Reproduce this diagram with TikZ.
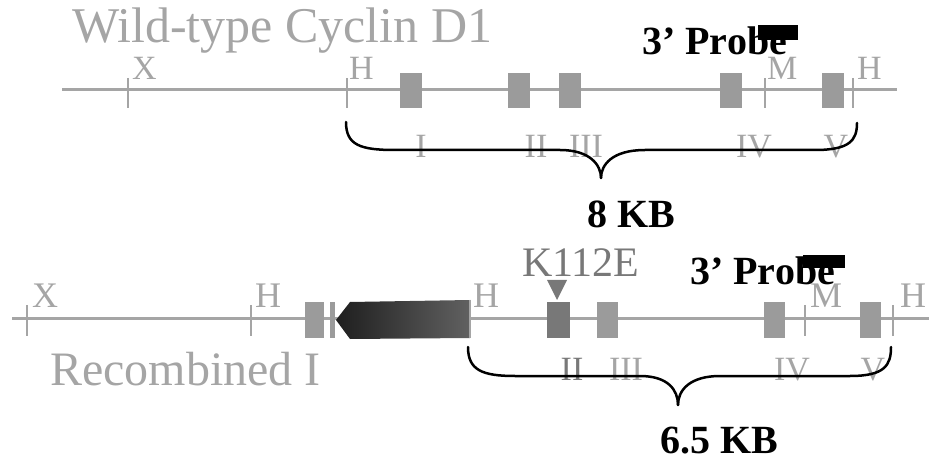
\documentclass[tikz,border=0pt]{standalone}
\usepackage{fontspec}
\setmainfont{Liberation Serif}
\definecolor{lgray}{RGB}{165,165,165}
\definecolor{egray}{RGB}{155,155,155}
\definecolor{dgray}{RGB}{120,120,120}
\begin{document}
\begin{tikzpicture}[x=1pt,y=-1pt,
  dna/.style={line width=3pt, draw=lgray},
  tickmark/.style={line width=2.5pt, draw=lgray},
  exon/.style={fill=egray},
  mexon/.style={fill=dgray},
  lab/.style={text=lgray, font=\fontsize{34}{34}\selectfont, inner sep=0pt, anchor=base west},
  num/.style={text=lgray, font=\fontsize{34}{34}\selectfont, inner sep=0pt, anchor=base},
  big/.style={text=lgray, font=\fontsize{50}{50}\selectfont, inner sep=0pt, anchor=base west},
  boldlab/.style={font=\fontsize{40}{40}\selectfont\bfseries, inner sep=0pt, anchor=base west},
  bracepath/.style={line width=2.5pt, draw=black, line cap=round, line join=round}]
\useasboundingbox (0,0) rectangle (929,462);

% ---------------- Wild-type ----------------
\node[big] (title) at (72,43) {Wild-type Cyclin D1};
\draw[dna] (62,90) -- (897,90);
\foreach \x in {128,347,765,853} \draw[tickmark] (\x,78) -- (\x,108);
\foreach \x in {400,508,559,720,822} \fill[exon] (\x,73) rectangle ++(22,35);
\node[lab] (wX) at (132,80) {X};
\node[lab] (wH1) at (349,80) {H};
\node[lab] (wM) at (767,80) {M};
\node[lab] (wH2) at (857,80) {H};
\node[num] (wI) at (421,158) {I};
\node[num] (wII) at (536,158) {II};
\node[num] (wIII) at (586,158) {III};
\node[num] (wIV) at (754,158) {IV};
\node[num] (wV) at (836,158) {V};
\node[boldlab] (wprobe) at (642,55) {3’ Probe};
\fill[black] (758,25) rectangle (798,40);
\draw[bracepath] (346,122) .. controls (346,145) and (360,150) .. (395,150) -- (560,150) .. controls (590,150) and (601,165) .. (601,178);
\draw[bracepath] (601,178) .. controls (601,165) and (612,150) .. (645,150) -- (815,150) .. controls (850,150) and (857,140) .. (857,123);
\node[boldlab] (w8kb) at (587,228) {8 KB};

% ---------------- Recombined ----------------
\draw[dna] (12,319) -- (929,319);
\foreach \x in {27,251,805,893} \draw[tickmark] (\x,305) -- (\x,336);
\fill[exon] (305,302) rectangle (324,338);
\fill[exon] (330,302) rectangle (335,338);
\shade[left color=black!88, right color=black!62] (336,320) -- (350,302) -- (470,300) -- (470,338) -- (350,339) -- cycle;
\draw[tickmark] (470,300) -- (470,338);
\fill[mexon] (547,302) rectangle (570,338);
\foreach \x in {597,764,860} \fill[exon] (\x,302) rectangle ++(21,36);
\fill[dgray] (547,280) -- (567,280) -- (557,300) -- cycle;
\node[text=dgray, font=\fontsize{42}{42}\selectfont, inner sep=0pt, anchor=base west] (k112e) at (522,277) {K112E};
\node[lab, font=\fontsize{36}{36}\selectfont] (rX) at (32,308) {X};
\node[lab, font=\fontsize{36}{36}\selectfont] (rH1) at (255,308) {H};
\node[lab, font=\fontsize{36}{36}\selectfont] (rH2) at (473,308) {H};
\node[lab, font=\fontsize{36}{36}\selectfont] (rM) at (810,308) {M};
\node[lab, font=\fontsize{36}{36}\selectfont] (rH3) at (900,308) {H};
\node[num, text=dgray] (rII) at (572,380) {II};
\node[num] (rIII) at (626,380) {III};
\node[num] (rIV) at (792,380) {IV};
\node[num] (rV) at (873,380) {V};
\node[big, font=\fontsize{48}{48}\selectfont] (rtitle) at (50,385) {Recombined I};
\node[boldlab] (rprobe) at (690,285) {3’ Probe};
\fill[black] (803,255) rectangle (845,268);
\draw[bracepath] (468,347) .. controls (468,370) and (482,376) .. (515,376) -- (640,376) .. controls (668,376) and (678,390) .. (678,405);
\draw[bracepath] (678,405) .. controls (678,390) and (690,376) .. (720,376) -- (850,376) .. controls (885,376) and (891,365) .. (891,347);
\node[boldlab] (r65kb) at (660,453) {6.5 KB};
\end{tikzpicture}
\end{document}
